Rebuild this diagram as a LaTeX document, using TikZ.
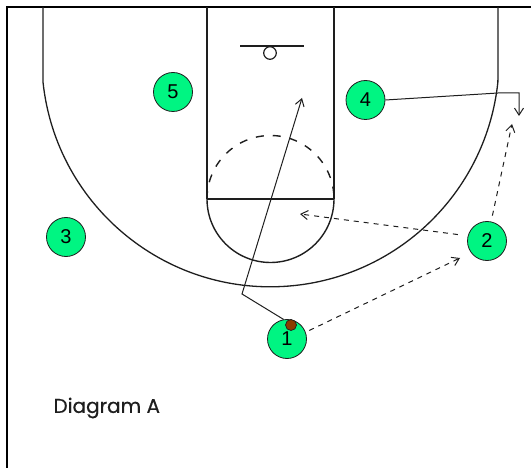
\documentclass[tikz,border=0pt]{standalone}
\usepackage{fontspec}
\setmainfont{Liberation Sans}
\newfontfamily\capfont{Poppins}[FakeBold=0.5]
\usetikzlibrary{arrows.meta}
\definecolor{pgreen}{RGB}{0,245,130}
\definecolor{ballbrown}{RGB}{140,60,0}
\definecolor{ink}{RGB}{30,30,30}
\begin{document}
\begin{tikzpicture}[x=1pt,y=-1pt,
  court/.style={line width=1.4pt, draw=ink},
  player/.style={circle, draw=ink, line width=0.8pt, fill=pgreen, minimum size=39pt, inner sep=0pt, font=\fontsize{20}{20}\selectfont},
  ballnode/.style={circle, draw=ink, line width=0.7pt, fill=ballbrown, minimum size=11pt, inner sep=0pt},
  move/.style={line width=1pt, draw=ink, -{Straight Barb[length=7pt,width=9pt,line width=1pt]}},
  pass/.style={move, dash pattern=on 5pt off 5pt}]
\useasboundingbox (0,0) rectangle (531,468);
% border (baseline and sideline)
\draw[line width=2.2pt, draw=black] (7,468) -- (7,7) -- (531,7);
% lane
\draw[court, line width=1.8pt] (207,7) -- (207,199);
\draw[court, line width=1.8pt] (334,7) -- (334,199);
\draw[court] (207,199) -- (334,199);
% free throw circle
\draw[court] (334,199) arc[start angle=0, end angle=180, radius=63.5];
\draw[court, dash pattern=on 8pt off 9pt] (207,199) arc[start angle=180, end angle=360, radius=63.5];
% backboard and rim
\draw[court] (240,46) -- (304,46);
\draw[court, line width=1.2pt] (270,53) circle[radius=6.3];
% three point line
\draw[court, line width=1.3pt] (43,7) -- (43,82) arc[start angle=174, end angle=6, radius=228.7] -- (498,7);
% players
\node[player] (p5) at (173,92) {5};
\node[player] (p4) at (365.5,100) {4};
\node[player] (p3) at (66,237) {3};
\node[player] (p2) at (487,241) {2};
\node[player] (p1) at (287,339) {1};
\node[ballnode] (ball) at (291,325) {};
% coordinates
\coordinate (c1) at (242,294);
\coordinate (t1) at (302,98);
\coordinate (c4a) at (498,93);
\coordinate (c4b) at (519,93);
\coordinate (t4) at (519,116);
\coordinate (t2up) at (512,124);
\coordinate (t2left) at (300,214);
\coordinate (t12) at (460,258);
% connectors
\draw[move] (p1.100) -- (c1) -- (t1);
\draw[move] (p4.east) -- (c4a) -- (c4b) -- (t4);
\draw[pass, shorten <=6pt] (p2.78) -- (t2up);
\draw[pass, shorten <=10pt] (p2.165) -- (t2left);
\draw[pass, shorten <=4pt] (p1.20) -- (t12);
% caption
\node[anchor=west, text=ink, font=\capfont\fontsize{20}{20}\selectfont] (cap) at (50,408) {Diagram A};
\end{tikzpicture}
\end{document}
